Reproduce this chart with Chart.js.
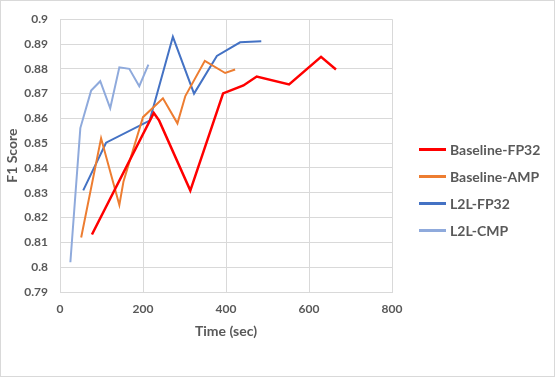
<!DOCTYPE html>
<html>
<head>
<meta charset="utf-8">
<script src="https://cdn.jsdelivr.net/npm/chart.js@4/dist/chart.umd.min.js"></script>
<style>
  html, body { margin: 0; padding: 0; background: #fff; }
  #wrap { position: relative; width: 555px; height: 377px; }
  #frame { position: absolute; left: 0; top: 0; width: 553px; height: 375px; border: 1px solid #d9d9d9; pointer-events: none; }
  #legend { position: absolute; left: 419px; top: 136px; font-family: Lato, "Liberation Sans", sans-serif; font-weight: bold; font-size: 14px; color: #595959; }
  .item { height: 27px; display: flex; align-items: center; }
  .swatch { width: 27px; margin-right: 4px; }
</style>
</head>
<body>
<div id="wrap">
  <canvas id="c" width="555" height="377"></canvas>
  <div id="legend"></div>
  <div id="frame"></div>
</div>
<script>
const seriesNames = ["Baseline-FP32", "Baseline-AMP", "L2L-FP32", "L2L-CMP"];
const seriesColors = ["#ff0000", "#ed7d31", "#4472c4", "#8faadc"];

const baselineFp32X = [77, 226, 239, 314, 393, 442, 474, 552, 629, 665];
const baselineFp32Y = [0.8132, 0.8622, 0.8591, 0.8309, 0.8701, 0.8733, 0.8769, 0.8737, 0.8848, 0.8797];

const baselineAmpX = [51, 99, 143, 153, 200, 248, 283, 302, 349, 398, 422];
const baselineAmpY = [0.8120, 0.8520, 0.8251, 0.8346, 0.8605, 0.8681, 0.8580, 0.8690, 0.8832, 0.8783, 0.8797];

const l2lFp32X = [56, 111, 216, 272, 323, 378, 434, 485];
const l2lFp32Y = [0.8310, 0.8502, 0.8591, 0.8929, 0.8700, 0.8852, 0.8907, 0.8911];

const l2lCmpX = [25, 49, 75, 97, 121, 143, 167, 191, 213];
const l2lCmpY = [0.8020, 0.8561, 0.8712, 0.8750, 0.8641, 0.8806, 0.8800, 0.8730, 0.8817];

const xTicks = [0, 200, 400, 600, 800];
const yMin = 0.79, yMax = 0.9, yStep = 0.01;

const xs = [baselineFp32X, baselineAmpX, l2lFp32X, l2lCmpX];
const ys = [baselineFp32Y, baselineAmpY, l2lFp32Y, l2lCmpY];
const widths = [2.5, 2, 2, 2];

const datasets = seriesNames.map((name, i) => ({
  label: name,
  data: xs[i].map((x, j) => ({ x: x, y: ys[i][j] })),
  borderColor: seriesColors[i],
  backgroundColor: seriesColors[i],
  borderWidth: widths[i],
  pointRadius: 0,
  tension: 0,
  fill: false
}));

const tickFont = { family: "Lato, 'Liberation Sans', sans-serif", size: 12, weight: 'bold' };
const titleFont = { family: "Lato, 'Liberation Sans', sans-serif", size: 14, weight: 'bold' };
const grey = '#595959';
const gridC = '#d9d9d9';

new Chart(document.getElementById('c'), {
  type: 'line',
  data: { datasets: datasets },
  options: {
    responsive: false,
    animation: false,
    layout: { padding: { left: 0, right: 163, top: 16, bottom: 35 } },
    plugins: { legend: { display: false }, tooltip: { enabled: false } },
    scales: {
      x: {
        type: 'linear',
        min: xTicks[0], max: xTicks[xTicks.length - 1],
        afterBuildTicks: s => { s.ticks = xTicks.map(v => ({ value: v })); },
        afterFit: s => { s.height = 50; },
        ticks: { font: tickFont, color: grey, padding: 10, autoSkip: false, maxRotation: 0 },
        grid: { color: gridC, drawTicks: false, lineWidth: 1 },
        border: { color: gridC },
        title: { display: true, text: 'Time (sec)', font: titleFont, color: grey, padding: { top: 0, bottom: 2 } }
      },
      y: {
        type: 'linear',
        min: yMin, max: yMax,
        ticks: { stepSize: yStep, font: tickFont, color: grey, padding: 12, autoSkip: false,
                 callback: v => String(Number(v.toFixed(2))) },
        afterFit: s => { s.width = 60; },
        grid: { color: gridC, drawTicks: false, lineWidth: 1 },
        border: { color: gridC },
        title: { display: true, text: 'F1 Score', font: titleFont, color: grey, padding: { top: 4, bottom: 0 } }
      }
    }
  }
});

const lg = document.getElementById('legend');
seriesNames.forEach((n, i) => {
  const d = document.createElement('div');
  d.className = 'item';
  d.innerHTML = '<div class="swatch" style="height:' + (i === 0 ? 3 : 3) + 'px;background:' + seriesColors[i] + '"></div><span>' + n + '</span>';
  lg.appendChild(d);
});
</script>
</body>
</html>
